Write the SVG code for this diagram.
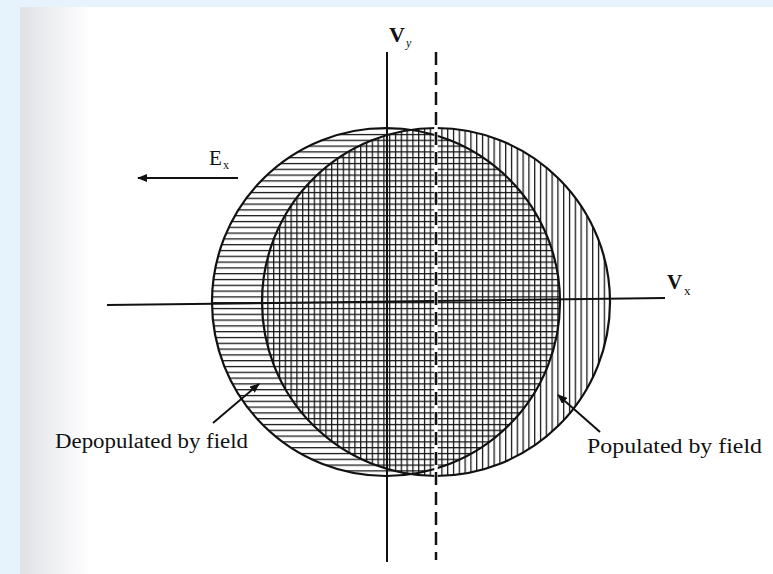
<svg xmlns="http://www.w3.org/2000/svg" width="773" height="574" viewBox="0 0 773 574">
<style>
.ax{stroke:#111;stroke-width:2;fill:none}
.circ{stroke:#111;stroke-width:2.2;fill:none}
.lbl{font-family:"Liberation Serif","Times New Roman",serif;fill:#111}
.bold{font-weight:bold}
.ptr{stroke:#111;stroke-width:2;fill:none}
</style>
<defs>
<linearGradient id="pageShade" x1="0" y1="0" x2="1" y2="0">
<stop offset="0" stop-color="#dfe1e5"/>
<stop offset="1" stop-color="#ffffff"/>
</linearGradient>
<pattern id="hLines" patternUnits="userSpaceOnUse" x="0" y="0.5" width="10" height="5.8">
<line x1="0" y1="0.6" x2="10" y2="0.6" stroke="#111" stroke-width="1.3"/>
</pattern>
<pattern id="vLines" patternUnits="userSpaceOnUse" x="0.5" y="0" width="5.8" height="10">
<line x1="0.6" y1="0" x2="0.6" y2="10" stroke="#111" stroke-width="1.3"/>
</pattern>
<marker id="arr" viewBox="0 0 10 8" refX="9" refY="4" markerWidth="10" markerHeight="8" markerUnits="userSpaceOnUse" orient="auto">
<path d="M0,0 L10,4 L0,8 Z" fill="#111"/>
</marker>
</defs>
<rect x="0" y="0" width="773" height="574" fill="#e6f2fc"/>
<rect x="20" y="7" width="753" height="567" fill="#ffffff"/>
<rect x="20" y="7" width="70" height="567" fill="url(#pageShade)"/>

<g id="depopulated-circle">
<circle cx="386" cy="302" r="174" fill="#ffffff"/>
<circle cx="386" cy="302" r="174" fill="url(#hLines)"/>
</g>
<g id="populated-circle">
<circle cx="436" cy="302" r="174" fill="url(#vLines)"/>
<circle cx="386" cy="302" r="174" class="circ"/>
<circle cx="436" cy="302" r="174" class="circ"/>
</g>

<g id="axes">
<line x1="107" y1="305" x2="665" y2="298" class="ax"/>
<line x1="387" y1="52" x2="387" y2="562" class="ax"/>
<line x1="436" y1="52" x2="436" y2="560" stroke="#ffffff" stroke-width="3.5"/>
<line x1="436" y1="52" x2="436" y2="560" stroke="#111" stroke-width="2.5" stroke-dasharray="13 7"/>
</g>

<g id="connectors">
<line x1="238" y1="178" x2="138" y2="178" class="ptr" marker-end="url(#arr)"/>
<line x1="213" y1="423" x2="259" y2="384" class="ptr" marker-end="url(#arr)"/>
<line x1="600" y1="432" x2="558" y2="395" class="ptr" marker-end="url(#arr)"/>
</g>

<g id="label-vy">
<text class="lbl bold" x="389" y="42" font-size="22">V</text>
<text class="lbl" x="406" y="47" font-size="12" font-style="italic">y</text>
</g>
<g id="label-vx">
<text class="lbl bold" x="667" y="289" font-size="21">V</text>
<text class="lbl" x="684" y="295" font-size="13">x</text>
</g>
<g id="label-ex">
<text class="lbl" x="209" y="165" font-size="21">E</text>
<text class="lbl" x="223" y="169" font-size="12">x</text>
</g>
<g id="label-depopulated">
<text class="lbl" x="55" y="448" font-size="20" textLength="193" lengthAdjust="spacingAndGlyphs">Depopulated by field</text>
</g>
<g id="label-populated">
<text class="lbl" x="587" y="453" font-size="20" textLength="175" lengthAdjust="spacingAndGlyphs">Populated by field</text>
</g>
</svg>
